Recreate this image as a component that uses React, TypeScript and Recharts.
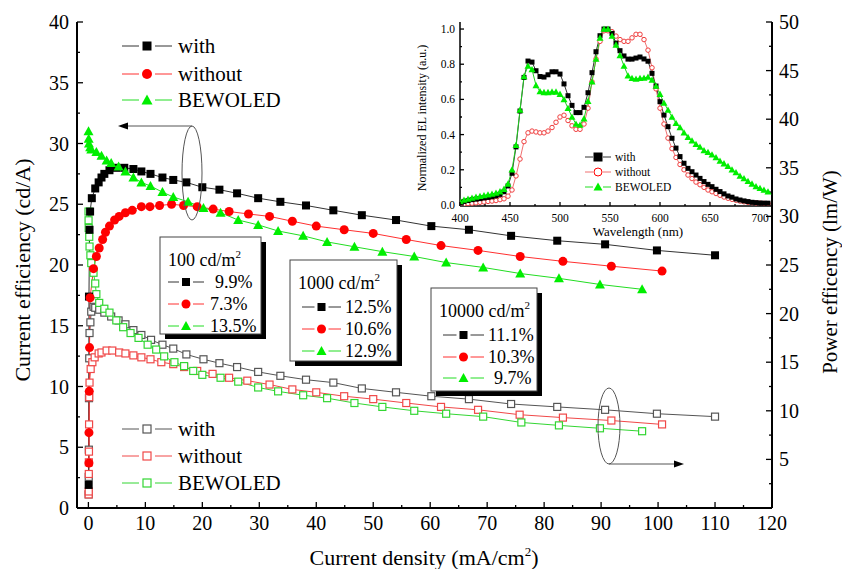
import { ComposedChart, LineChart, Line, XAxis, YAxis } from 'recharts'

type Pt = [number, number]

// current efficiency (cd/A) vs current density (mA/cm2)
const ceWith: Pt[] = [[0.05,1.9],[0.1,17.4],[0.2,22.9],[0.3,24.4],[0.6,25.5],[1.2,26.3],[1.8,26.8],[2.3,27.2],[2.8,27.5],[3.7,27.8],[4.9,28.0],[6.3,28.0],[7.9,27.9],[9.3,27.7],[10.9,27.5],[13,27.2],[14.9,27.0],[17.2,26.8],[20,26.4],[23,26.2],[26.1,25.9],[29.8,25.5],[33.7,25.2],[38.2,24.9],[43,24.5],[48,24.1],[54,23.7],[60.2,23.2],[66.8,22.9],[74.2,22.4],[82.3,22.0],[90.7,21.7],[99.8,21.2],[110,20.8]]
const ceWithout: Pt[] = [[0.1,3.7],[0.1,6.2],[0.15,9.6],[0.2,13.2],[0.3,17.3],[0.9,19.7],[1.4,20.7],[1.9,21.4],[2.5,22.1],[3.0,22.7],[3.7,23.2],[4.6,23.7],[5.4,24.0],[6.5,24.3],[7.7,24.5],[9.3,24.8],[10.8,24.8],[12.5,24.9],[14.6,25.0],[16.7,24.9],[19.1,24.8],[21.9,24.6],[24.7,24.4],[28.1,24.2],[31.8,24.0],[35.8,23.6],[40,23.2],[44.9,22.9],[50,22.6],[55.8,22.1],[61.9,21.6],[68.4,21.2],[75.8,20.7],[83.3,20.3],[91.8,19.9],[100.7,19.5]]
const ceBewoled: Pt[] = [[0.02,31.0],[0.05,30.4],[0.1,30.0],[0.3,29.7],[0.5,29.5],[1.4,29.3],[2.3,29.0],[3.2,28.6],[4.0,28.4],[5.3,28.1],[6.5,27.7],[7.9,27.2],[9.3,26.8],[10.9,26.5],[13.0,26.0],[14.9,25.6],[17.5,25.2],[20.2,24.7],[23.2,24.3],[26.3,23.7],[29.8,23.3],[33.3,22.8],[37.7,22.4],[41.9,21.9],[46.7,21.5],[51.6,21.1],[57.2,20.7],[62.8,20.2],[69.3,19.8],[75.8,19.3],[82.6,18.9],[89.8,18.4],[97.2,18.0]]

// power efficiency (lm/W)
const peWith: Pt[] = [[0.05,1.4],[0.06,3.2],[0.08,6.0],[0.1,11.3],[0.15,15.4],[0.2,18.0],[0.35,19.1],[0.5,20.2],[0.9,20.7],[1.2,20.6],[1.9,20.4],[2.8,20.1],[4.0,19.7],[5.3,19.3],[6.5,18.9],[7.9,18.3],[9.3,17.8],[11,17.3],[13,16.8],[14.9,16.4],[17.2,15.8],[20.2,15.3],[23,14.9],[26.1,14.5],[29.8,14.0],[33.7,13.6],[38.2,13.2],[43,12.9],[48,12.3],[54,11.9],[60.2,11.5],[66.8,11.2],[74.2,10.7],[82.3,10.4],[90.7,10.1],[99.8,9.7],[110,9.4]]
const peWithout: Pt[] = [[0.05,1.4],[0.06,1.7],[0.07,3.5],[0.08,4.7],[0.1,5.8],[0.12,8.6],[0.15,11.4],[0.2,12.9],[0.4,14.3],[0.7,15.0],[1.1,15.5],[1.8,15.9],[2.3,16.0],[3.2,16.2],[4.2,16.2],[5.4,16.0],[6.5,15.9],[7.9,15.7],[9.3,15.5],[10.9,15.3],[12.8,15.0],[14.9,14.8],[16.8,14.5],[19.1,14.1],[21.8,13.8],[24.7,13.4],[27.9,13.1],[31.8,12.7],[35.8,12.2],[40,11.9],[44.9,11.5],[50,11.2],[55.8,10.8],[61.9,10.4],[68.4,10.1],[75.7,9.6],[83.3,9.3],[91.8,9.0],[100.7,8.6]]
const peBewoled: Pt[] = [[0.02,30.5],[0.03,29.6],[0.05,28.8],[0.15,27.9],[0.2,26.9],[0.35,26.0],[0.5,25.2],[0.9,24.2],[1.2,23.1],[1.4,22.0],[1.9,21.1],[2.8,20.5],[3.7,20.1],[4.9,19.3],[6.1,18.6],[7.4,18.0],[8.8,17.5],[10.4,16.8],[11.9,16.3],[13.3,15.6],[15.1,15.0],[16.8,14.6],[18.4,14.1],[20.0,13.7],[23.2,13.4],[26.3,13.0],[29.8,12.4],[33.3,12.0],[37.7,11.6],[41.9,11.3],[46.7,10.8],[51.6,10.4],[57.2,10.0],[62.8,9.7],[69.3,9.4],[76,8.8],[82.6,8.5],[89.8,8.2],[97.2,7.9]]

// inset: normalized EL spectra
const wavelength = [400,404,408,412,416,420,424,428,432,436,440,444,448,452,456,460,464,468,472,476,480,484,488,492,496,500,504,508,512,516,520,524,528,532,536,540,544,548,552,556,560,564,568,572,576,580,584,588,592,596,600,604,608,612,616,620,624,628,632,636,640,644,648,652,656,660,664,668,672,676,680,684,688,692,696,700,704,708]
const elWith = [0.015,0.02,0.025,0.03,0.033,0.036,0.04,0.043,0.047,0.052,0.06,0.075,0.108,0.18,0.33,0.534,0.725,0.818,0.812,0.763,0.73,0.727,0.74,0.757,0.757,0.744,0.688,0.621,0.566,0.525,0.525,0.555,0.638,0.752,0.871,0.962,1.0,1.0,0.975,0.92,0.877,0.847,0.829,0.829,0.835,0.841,0.83,0.817,0.748,0.676,0.587,0.511,0.445,0.379,0.323,0.275,0.237,0.208,0.189,0.17,0.151,0.133,0.117,0.104,0.089,0.076,0.063,0.051,0.044,0.034,0.028,0.023,0.019,0.015,0.013,0.011,0.01,0.01]
const elWithout = [0.0,0.005,0.008,0.01,0.012,0.015,0.017,0.02,0.022,0.025,0.03,0.035,0.05,0.085,0.165,0.261,0.36,0.41,0.42,0.415,0.41,0.41,0.42,0.44,0.47,0.5,0.51,0.48,0.45,0.43,0.43,0.46,0.55,0.7,0.83,0.93,0.99,0.99,0.985,0.96,0.94,0.93,0.93,0.95,0.97,0.97,0.94,0.88,0.78,0.66,0.55,0.46,0.38,0.32,0.27,0.23,0.2,0.17,0.15,0.13,0.115,0.1,0.085,0.075,0.065,0.055,0.045,0.038,0.032,0.027,0.022,0.018,0.015,0.013,0.011,0.01,0.009,0.008]
const elBewoled = [0.02,0.028,0.034,0.04,0.045,0.05,0.054,0.058,0.062,0.068,0.076,0.09,0.12,0.2,0.34,0.54,0.73,0.79,0.77,0.68,0.645,0.64,0.64,0.643,0.643,0.63,0.6,0.55,0.5,0.46,0.455,0.49,0.59,0.7,0.83,0.95,1.0,1.0,0.96,0.91,0.85,0.79,0.735,0.72,0.716,0.72,0.722,0.728,0.71,0.676,0.63,0.58,0.54,0.5,0.465,0.44,0.41,0.385,0.365,0.345,0.33,0.31,0.3,0.285,0.27,0.25,0.235,0.22,0.2,0.185,0.165,0.15,0.135,0.12,0.105,0.095,0.085,0.075]

const seriesNames = ['with', 'without', 'BEWOLED']
const eqe100 = ['9.9%', '7.3%', '13.5%']
const eqe1000 = ['12.5%', '10.6%', '12.9%']
const eqe10000 = ['11.1%', '10.3%', '9.7%']

const jTicks = [0,5,10,15,20,25,30,35,40,45,50,55,60,65,70,75,80,85,90,95,100,105,110,115,120]
const ceTicks = [0,2.5,5,7.5,10,12.5,15,17.5,20,22.5,25,27.5,30,32.5,35,37.5,40]
const peTicks = [0,2.5,5,7.5,10,12.5,15,17.5,20,22.5,25,27.5,30,32.5,35,37.5,40,42.5,45,47.5,50]
const wlTicks = [400,425,450,475,500,525,550,575,600,625,650,675,700]
const elTicks = [0,0.1,0.2,0.3,0.4,0.5,0.6,0.7,0.8,0.9,1.0]

const SERIF = '"Liberation Serif", "Times New Roman", serif'
const toRows = (pts: Pt[]) => pts.map(([x, y]) => ({ x, y }))
const elRows = wavelength.map((wl, i) => ({ wl, w: elWith[i], wo: elWithout[i], be: elBewoled[i] }))

type Kind = 'sq' | 'osq' | 'dot' | 'odot' | 'tri'

function Mark({ kind, x, y, s, c }: { kind: Kind; x: number; y: number; s: number; c: string }) {
  const h = s / 2
  if (kind === 'sq') return <rect x={x - h} y={y - h} width={s} height={s} fill={c} />
  if (kind === 'osq') return <rect x={x - h + 0.5} y={y - h + 0.5} width={s - 1} height={s - 1} fill="#fff" stroke={c} strokeWidth={1.2} />
  if (kind === 'dot') return <circle cx={x} cy={y} r={h} fill={c} />
  if (kind === 'odot') return <circle cx={x} cy={y} r={h - 0.5} fill="#fff" stroke={c} strokeWidth={1} />
  return <polygon points={`${x},${y - h} ${x + h},${y + h * 0.8} ${x - h},${y + h * 0.8}`} fill={c} />
}

const dotOf = (kind: Kind, s: number, c: string) => (p: any) =>
  p.cx == null ? <g key={p.index} /> : <g key={p.index}><Mark kind={kind} x={p.cx} y={p.cy} s={s} c={c} /></g>

// ticks point inward, labels only on major values
const tickBottom = (isMajor: (v: number) => boolean, fs: number, len: number, gap: number, fmt = (v: number) => String(v)) =>
  (p: any) => {
    const v = p.payload.value
    const m = isMajor(v)
    return (
      <g>
        <line x1={p.x} x2={p.x} y1={p.y} y2={p.y - (m ? len : len / 2)} stroke="#000" strokeWidth={1.3} />
        {m && <text x={p.x} y={p.y + gap} dy="0.35em" textAnchor="middle" fontSize={fs} fontFamily={SERIF} fill="#000">{fmt(v)}</text>}
      </g>
    )
  }
const tickLeft = (isMajor: (v: number) => boolean, fs: number, len: number, gap: number, fmt = (v: number) => String(v)) =>
  (p: any) => {
    const v = p.payload.value
    const m = isMajor(v)
    return (
      <g>
        <line x1={p.x} x2={p.x + (m ? len : len / 2)} y1={p.y} y2={p.y} stroke="#000" strokeWidth={1.3} />
        {m && <text x={p.x - gap} y={p.y} dy="0.35em" textAnchor="end" fontSize={fs} fontFamily={SERIF} fill="#000">{fmt(v)}</text>}
      </g>
    )
  }
const tickRight = (isMajor: (v: number) => boolean, fs: number, len: number, gap: number) =>
  (p: any) => {
    const v = p.payload.value
    const m = isMajor(v)
    return (
      <g>
        <line x1={p.x} x2={p.x - (m ? len : len / 2)} y1={p.y} y2={p.y} stroke="#000" strokeWidth={1.3} />
        {m && v > 0 && <text x={p.x + gap} y={p.y} dy="0.35em" textAnchor="start" fontSize={fs} fontFamily={SERIF} fill="#000">{v}</text>}
      </g>
    )
  }

const series = [
  { kind: 'sq' as Kind, mc: '#000', lc: '#333', s: 9 },
  { kind: 'dot' as Kind, mc: '#ff0000', lc: '#ff3030', s: 10 },
  { kind: 'tri' as Kind, mc: '#00ee00', lc: '#22dd22', s: 11 },
]
const openColors = ['#555', '#f04848', '#33d633']

function LegendRow({ x1, x2, y, kind, s, mc, lc, text, tx, fs, gap }: any) {
  const mx = (x1 + x2) / 2
  return (
    <g>
      <line x1={x1} x2={mx - gap} y1={y} y2={y} stroke={lc} strokeWidth={1} />
      <line x1={mx + gap} x2={x2} y1={y} y2={y} stroke={lc} strokeWidth={1} />
      <Mark kind={kind} x={mx} y={y} s={s} c={mc} />
      {text && <text x={tx} y={y} dy="0.35em" fontSize={fs} fontFamily={SERIF} fill="#000">{text}</text>}
    </g>
  )
}

function ValueBox({ x, y, w, h, title, rows, lx1, lx2, tx, values }: any) {
  return (
    <g>
      <rect x={x + 5} y={y + 5} width={w} height={h} fill="#000" />
      <rect x={x} y={y} width={w} height={h} fill="#fff" stroke="#444" strokeWidth={1} />
      <text x={x + 8} y={y + 23} dy="0.35em" fontSize={18} fontFamily={SERIF} fill="#000">
        {title} cd/m<tspan dy={-8} fontSize={11}>2</tspan>
      </text>
      {series.map((sr, i) => (
        <LegendRow key={i} x1={lx1} x2={lx2} y={rows[i]} kind={sr.kind} s={sr.s - 1} mc={sr.mc} lc={sr.lc}
          text={values[i]} tx={tx[i]} fs={18} gap={7} />
      ))}
    </g>
  )
}

function Arrow({ x1, x2, y }: { x1: number; x2: number; y: number }) {
  const dir = x2 > x1 ? 1 : -1
  return (
    <g>
      <line x1={x1} x2={x2 - dir * 8} y1={y} y2={y} stroke="#555" strokeWidth={1} />
      <polygon points={`${x2},${y} ${x2 - dir * 10},${y - 3.5} ${x2 - dir * 10},${y + 3.5}`} fill="#000" />
    </g>
  )
}

function Overlay() {
  return (
    <svg width={842} height={569} style={{ position: 'absolute', left: 0, top: 0, pointerEvents: 'none' }}>
      {/* axis titles */}
      <text transform="translate(22,270) rotate(-90)" dy="0.35em" textAnchor="middle" fontSize={22} fontFamily={SERIF} fill="#000">
        Current efficiency (cd/A)
      </text>
      <text transform="translate(830,272) rotate(-90)" dy="0.35em" textAnchor="middle" fontSize={21} fontFamily={SERIF} fill="#000">
        Power efficency (lm/W)
      </text>
      <text x={424} y={557} dy="0.35em" textAnchor="middle" fontSize={22} fontFamily={SERIF} fill="#000">
        Current density (mA/cm<tspan dy={-9} fontSize={13}>2</tspan><tspan dy={9}>)</tspan>
      </text>

      {/* main legends */}
      {series.map((sr, i) => (
        <LegendRow key={'a' + i} x1={122} x2={172} y={[46, 74, 100][i]} kind={sr.kind} s={sr.s} mc={sr.mc} lc={sr.lc}
          text={seriesNames[i]} tx={178} fs={21} gap={8} />
      ))}
      {seriesNames.map((n, i) => (
        <LegendRow key={'b' + i} x1={122} x2={172} y={[429, 456, 483][i]} kind="osq" s={9} mc={openColors[i]} lc={openColors[i]}
          text={n} tx={178} fs={21} gap={8} />
      ))}

      {/* efficiency boxes */}
      <ValueBox x={160} y={237} w={101} h={97} title="100" rows={[282, 304, 326]} lx1={168} lx2={204} tx={[215, 210, 210]} values={eqe100} />
      <ValueBox x={290} y={260} w={107} h={101} title="1000" rows={[307, 329, 351]} lx1={302} lx2={341} tx={[345, 345, 345]} values={eqe1000} />
      <ValueBox x={431} y={288} w={106} h={103} title="10000" rows={[335, 357, 378]} lx1={443} lx2={484} tx={[488, 488, 494]} values={eqe10000} />

      {/* axis indicators */}
      <ellipse cx={192} cy={173} rx={10} ry={47} fill="none" stroke="#555" strokeWidth={1} />
      <Arrow x1={192} x2={118} y={126} />
      <ellipse cx={609} cy={426} rx={11} ry={38} fill="none" stroke="#555" strokeWidth={1} />
      <Arrow x1={609} x2={684} y={464} />

      {/* inset legend and titles */}
      {series.map((sr, i) => (
        <LegendRow key={'c' + i} x1={585} x2={611} y={[157, 172, 187][i]} kind={i === 1 ? 'odot' : sr.kind} s={i === 1 ? 9 : 9}
          mc={sr.mc} lc={i === 1 ? '#f07070' : sr.lc} text={seriesNames[i]} tx={615} fs={11.5} gap={5} />
      ))}
      <text transform="translate(422,118) rotate(-90)" dy="0.35em" textAnchor="middle" fontSize={12} fontFamily={SERIF} fill="#000">
        Normalized EL intensity (a.u.)
      </text>
      <text x={638} y={231} dy="0.35em" textAnchor="middle" fontSize={13} fontFamily={SERIF} fill="#000">
        Wavelength (nm)
      </text>
    </svg>
  )
}

export default function App() {
  const common = { type: 'linear' as const, activeDot: false, isAnimationActive: false, strokeWidth: 1, dataKey: 'y' }
  return (
    <div style={{ position: 'absolute', left: 0, top: 0, width: 842, height: 569, background: '#fff' }}>
      <div style={{ position: 'absolute', left: 0, top: 0 }}>
        <ComposedChart width={842} height={569} margin={{ top: 22, right: 0, bottom: 0, left: 0 }}>
          <XAxis dataKey="x" type="number" domain={[-2, 120]} ticks={jTicks} interval={0} allowDataOverflow height={61}
            tickSize={0} tickMargin={0} tickLine={false} axisLine={{ stroke: '#000', strokeWidth: 2 }}
            tick={tickBottom((v) => v % 10 === 0, 20, 6, 15)} />
          <XAxis xAxisId="top" orientation="top" type="number" domain={[-2, 120]} height={0} tick={false} tickLine={false}
            axisLine={{ stroke: '#000', strokeWidth: 2 }} />
          <YAxis yAxisId="ce" type="number" domain={[0, 40]} ticks={ceTicks} interval={0} width={77} allowDataOverflow
            tickSize={0} tickMargin={0} tickLine={false} axisLine={{ stroke: '#000', strokeWidth: 2 }}
            tick={tickLeft((v) => v % 5 === 0, 20, 6, 8)} />
          <YAxis yAxisId="pe" orientation="right" type="number" domain={[0, 50]} ticks={peTicks} interval={0} width={70} allowDataOverflow
            tickSize={0} tickMargin={0} tickLine={false} axisLine={{ stroke: '#000', strokeWidth: 2 }}
            tick={tickRight((v) => v % 5 === 0, 20, 6, 7)} />

          <Line {...common} yAxisId="pe" data={toRows(peWith)} stroke={openColors[0]} dot={dotOf('osq', 8, openColors[0])} />
          <Line {...common} yAxisId="pe" data={toRows(peWithout)} stroke={openColors[1]} dot={dotOf('osq', 8, openColors[1])} />
          <Line {...common} yAxisId="pe" data={toRows(peBewoled)} stroke={openColors[2]} dot={dotOf('osq', 8, openColors[2])} />
          <Line {...common} yAxisId="ce" data={toRows(ceWith)} stroke={series[0].lc} dot={dotOf('sq', 8, series[0].mc)} />
          <Line {...common} yAxisId="ce" data={toRows(ceWithout)} stroke={series[1].lc} dot={dotOf('dot', 9, series[1].mc)} />
          <Line {...common} yAxisId="ce" data={toRows(ceBewoled)} stroke={series[2].lc} dot={dotOf('tri', 10, series[2].mc)} />
        </ComposedChart>
      </div>

      <div style={{ position: 'absolute', left: 380, top: 0 }}>
        <LineChart width={400} height={240} data={elRows} margin={{ top: 22, right: 8, bottom: 0, left: 0 }}>
          <XAxis dataKey="wl" type="number" domain={[400, 712]} ticks={wlTicks} interval={0} allowDataOverflow height={34}
            tickSize={0} tickMargin={0} tickLine={false} axisLine={{ stroke: '#000', strokeWidth: 1.5 }}
            tick={tickBottom((v) => v % 50 === 0, 11.5, 4, 12)} />
          <YAxis type="number" domain={[-0.006, 1.04]} ticks={elTicks} interval={0} width={80} allowDataOverflow
            tickSize={0} tickMargin={0} tickLine={false} axisLine={{ stroke: '#000', strokeWidth: 1.5 }}
            tick={tickLeft((v) => Math.round(v * 10) % 2 === 0, 11.5, 4, 5, (v) => v.toFixed(1))} />
          <Line type="linear" dataKey="wo" stroke="#f07070" strokeWidth={1} activeDot={false} isAnimationActive={false} dot={dotOf('odot', 5.5, '#f04040')} />
          <Line type="linear" dataKey="w" stroke="#333" strokeWidth={1} activeDot={false} isAnimationActive={false} dot={dotOf('sq', 5, '#000')} />
          <Line type="linear" dataKey="be" stroke="#22cc22" strokeWidth={1} activeDot={false} isAnimationActive={false} dot={dotOf('tri', 7, '#00ee00')} />
        </LineChart>
      </div>

      <Overlay />
    </div>
  )
}
